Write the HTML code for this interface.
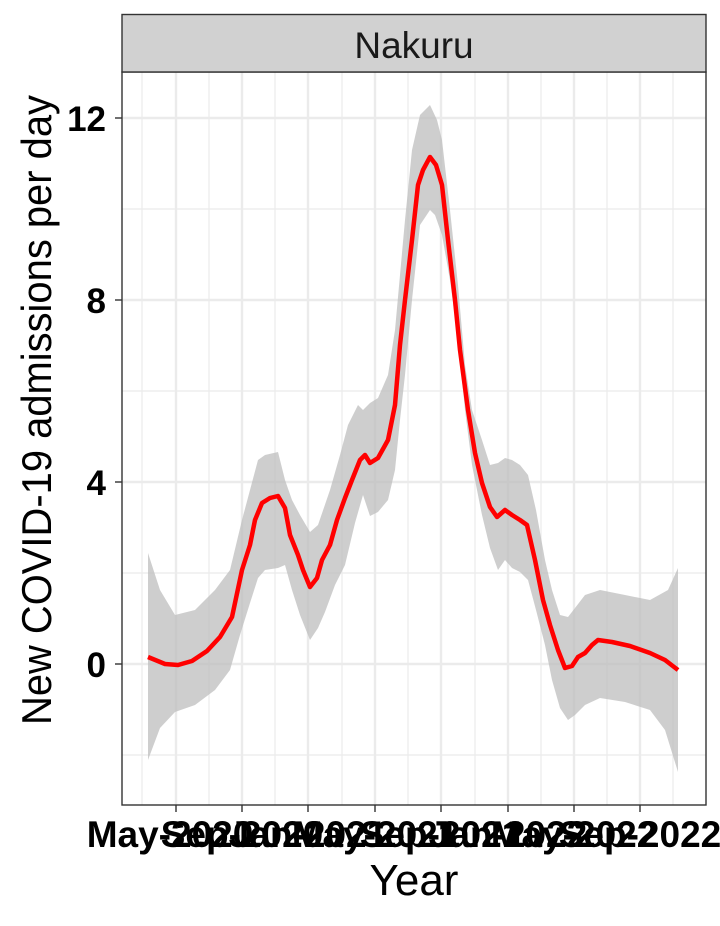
<!DOCTYPE html>
<html><head><meta charset="utf-8"><style>
html,body{margin:0;padding:0;background:#fff;}
</style></head><body>
<svg width="720" height="921" xmlns="http://www.w3.org/2000/svg" font-family="Liberation Sans, Arial, sans-serif">
<rect width="720" height="921" fill="#fff"/>
<!-- grid -->
<g stroke="#ebebeb" stroke-width="1.2">
<line x1="122" x2="706" y1="755" y2="755"/><line x1="122" x2="706" y1="573" y2="573"/><line x1="122" x2="706" y1="391" y2="391"/><line x1="122" x2="706" y1="209" y2="209"/>
<line x1="142" x2="142" y1="72" y2="805"/><line x1="209" x2="209" y1="72" y2="805"/><line x1="275" x2="275" y1="72" y2="805"/><line x1="342" x2="342" y1="72" y2="805"/><line x1="408" x2="408" y1="72" y2="805"/><line x1="475" x2="475" y1="72" y2="805"/><line x1="541" x2="541" y1="72" y2="805"/><line x1="607" x2="607" y1="72" y2="805"/><line x1="673" x2="673" y1="72" y2="805"/>
</g>
<g stroke="#ebebeb" stroke-width="2.4">
<line x1="122" x2="706" y1="664" y2="664"/><line x1="122" x2="706" y1="482" y2="482"/><line x1="122" x2="706" y1="300" y2="300"/><line x1="122" x2="706" y1="118" y2="118"/>
<line x1="176" x2="176" y1="72" y2="805"/><line x1="242" x2="242" y1="72" y2="805"/><line x1="308" x2="308" y1="72" y2="805"/><line x1="375" x2="375" y1="72" y2="805"/><line x1="441" x2="441" y1="72" y2="805"/><line x1="508" x2="508" y1="72" y2="805"/><line x1="574" x2="574" y1="72" y2="805"/><line x1="640" x2="640" y1="72" y2="805"/>
</g>
<!-- ribbon -->
<polygon fill="#bdbdbd" fill-opacity="0.75" points="148,553 160,590 175,615 195,610 215,590 230,570 242,520 250,490 258,460 265,455 278,452 285,480 292,500 300,515 310,532 318,525 330,490 340,455 348,425 358,405 363,410 370,403 378,398 388,375 395,330 400,275 405,220 412,150 420,115 430,105 437,120 442,140 450,210 458,285 465,365 472,410 482,440 490,465 498,463 505,458 512,460 520,465 528,475 536,510 545,560 552,590 560,615 568,617 575,608 585,595 600,590 625,595 650,600 668,590 678,568 678,772 665,730 650,710 625,702 600,698 585,705 575,715 568,720 560,708 552,680 545,645 536,610 528,580 520,572 512,568 505,560 498,570 490,548 482,515 472,465 465,410 458,340 450,280 442,235 435,215 430,210 420,225 412,300 405,375 400,420 395,470 388,500 378,512 370,516 363,495 355,523 345,565 335,585 325,612 318,628 310,640 300,615 292,590 285,565 278,568 265,570 258,578 250,603 240,635 230,670 215,690 195,705 175,712 160,728 148,760"/>
<!-- line -->
<polyline fill="none" stroke="#ff0000" stroke-width="4.5" stroke-linejoin="round" points="148,657 165,664 178,665 192,661 207,651 220,637 232,617 242,570 250,545 255,520 262,503 270,498 278,496 285,508 290,535 298,555 303,570 310,587 317,578 322,560 330,545 337,520 345,498 352,480 360,460 365,455 370,463 378,458 388,440 395,405 400,345 405,300 412,240 418,185 423,170 430,157 436,165 442,185 448,240 455,300 460,350 468,410 475,453 482,483 490,507 497,517 505,510 512,515 520,520 527,525 535,560 543,600 550,625 558,650 565,668 572,666 578,657 585,653 592,645 598,640 612,642 630,646 650,653 665,660 678,670"/>
<!-- panel border -->
<rect x="122" y="72" width="584" height="733" fill="none" stroke="#333" stroke-width="1.4"/>
<!-- strip -->
<rect x="122" y="14.5" width="584" height="57.5" fill="#d1d1d1" stroke="#333" stroke-width="1.4"/>
<text x="414" y="58" font-size="37" text-anchor="middle" fill="#1a1a1a">Nakuru</text>
<!-- ticks -->
<g stroke="#333" stroke-width="1.4">
<line x1="115" x2="122" y1="664" y2="664"/><line x1="115" x2="122" y1="482" y2="482"/><line x1="115" x2="122" y1="300" y2="300"/><line x1="115" x2="122" y1="118" y2="118"/>
<line x1="176" x2="176" y1="805" y2="812"/><line x1="242" x2="242" y1="805" y2="812"/><line x1="308" x2="308" y1="805" y2="812"/><line x1="375" x2="375" y1="805" y2="812"/><line x1="441" x2="441" y1="805" y2="812"/><line x1="508" x2="508" y1="805" y2="812"/><line x1="574" x2="574" y1="805" y2="812"/><line x1="640" x2="640" y1="805" y2="812"/>
</g>
<g font-size="35" font-weight="bold" text-anchor="end" fill="#000">
<text x="106" y="677">0</text><text x="106" y="495">4</text><text x="106" y="313">8</text><text x="106" y="131">12</text>
</g>
<g font-size="37" font-weight="bold" text-anchor="middle" fill="#000">
<text x="170" y="847">May-2020</text><text x="242" y="847">Sep-2020</text><text x="308" y="847">Jan-2021</text><text x="375" y="847">May-2021</text><text x="441" y="847">Sep-2021</text><text x="508" y="847">Jan-2022</text><text x="574" y="847">May-2022</text><text x="640" y="847">Sep-2022</text>
</g>
<text x="414" y="895" font-size="44" text-anchor="middle" fill="#000">Year</text>
<text transform="translate(51,410) rotate(-90)" font-size="42" text-anchor="middle" textLength="630" lengthAdjust="spacingAndGlyphs" fill="#000">New COVID-19 admissions per day</text>
</svg>
</body></html>
